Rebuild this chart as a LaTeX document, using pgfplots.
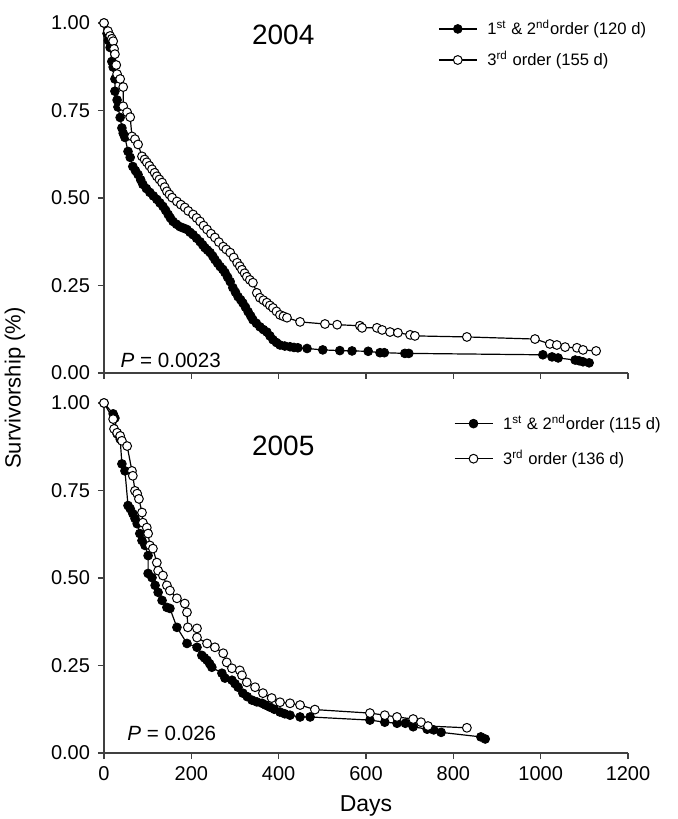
\documentclass[border=0pt]{standalone}
\usepackage{fontspec}
\setmainfont{Liberation Sans}
\usepackage{pgfplots}
\pgfplotsset{compat=1.18}

\pgfplotsset{
  surv/.style={
    scale only axis, width=262pt, height=175pt,
    xmin=0, xmax=1200, ymin=0, ymax=1,
    axis lines*=left, tick align=outside,
    xtick={0,200,...,1200}, ytick={0,0.25,0.5,0.75,1},
    yticklabel style={xshift=-0.5pt, /pgf/number format/fixed,
      /pgf/number format/fixed zerofill, /pgf/number format/precision=2},
    xticklabel style={/pgf/number format/1000 sep={}},
    /pgf/number format/assume math mode=true,
    tick style={black!75, line width=0.6pt}, major tick length=3pt,
    axis line style={black!75, line width=0.6pt},
    ticklabel style={font=\fontsize{10}{12}\selectfont},
    clip=false,
    legend style={draw=none, fill=none, font=\fontsize{8.3}{10}\selectfont,
      row sep=3pt, legend cell align=left, inner sep=0pt,
      /tikz/every odd column/.append style={column sep=3pt}},
    legend image code/.code={
      \draw[mark repeat=2, mark phase=2, #1]
        plot coordinates {(0pt,0pt) (9.5pt,0pt) (19pt,0pt)};},
  },
  fil/.style={black, line width=0.6pt, mark=*, mark size=2.2pt,
    mark options={fill=black, draw=black, line width=0.4pt}},
  opn/.style={black, line width=0.6pt, mark=*, mark size=2.2pt,
    mark options={fill=white, draw=black, line width=0.5pt}},
}

\begin{document}
\begin{tikzpicture}
\path[use as bounding box] (-52pt,-33pt) rectangle (287pt,376.5pt);
% ---------------- 2004 ----------------
\begin{axis}[surv, at={(0,190pt)}, xticklabels={},
  legend style={at={(0.637,1.02)}, anchor=north west}]
\addplot[fil] coordinates {
(0,1.0) (7,0.97) (10,0.95) (14,0.93) (18,0.89) (21,0.874) (25,0.84) (25,0.805)
(30,0.78) (32,0.76) (37,0.73) (41,0.70) (44,0.685) (48,0.673) (55,0.633) (60,0.616)
(66,0.59) (72,0.578) (78,0.567) (84,0.552) (89,0.539) (97,0.527) (105,0.516) (113,0.506)
(121,0.496) (128,0.486) (135,0.476) (141,0.465) (147,0.453) (152,0.443) (158,0.433)
(166,0.425) (174,0.418) (182,0.414) (190,0.41) (197,0.402) (204,0.395) (212,0.385)
(220,0.375) (226,0.366) (231,0.358) (237,0.351) (243,0.344) (249,0.334) (254,0.324)
(260,0.314) (266,0.304) (272,0.296) (277,0.287) (283,0.274) (289,0.261) (295,0.244)
(301,0.231) (307,0.218) (313,0.209) (318,0.20) (324,0.188) (330,0.175) (336,0.163)
(341,0.152) (349,0.142) (357,0.132) (365,0.124) (373,0.117) (380,0.106) (387,0.095)
(395,0.087) (403,0.08) (414,0.077) (426,0.075) (435,0.073) (444,0.072) (465,0.07)
(501,0.066) (540,0.064) (568,0.063) (605,0.062) (632,0.058) (642,0.058) (689,0.056)
(698,0.056) (1005,0.052) (1026,0.046) (1040,0.043) (1079,0.037) (1088,0.035)
(1097,0.032) (1111,0.029)
};
\addlegendentry{1\textsuperscript{st} \& 2\textsuperscript{nd}order (120 d)}
\addplot[opn] coordinates {
(0,1.0) (9,0.977) (14,0.963) (18,0.955) (21,0.948) (23,0.926) (25,0.911) (28,0.88)
(30,0.854) (37,0.840) (44,0.817) (44,0.762) (53,0.745) (60,0.731) (64,0.676) (71,0.668)
(78,0.653) (87,0.619) (93,0.61) (98,0.602) (104,0.592) (110,0.582) (116,0.572) (121,0.562)
(127,0.553) (133,0.544) (139,0.531) (144,0.519) (150,0.51) (156,0.501) (167,0.490)
(176,0.481) (185,0.473) (193,0.463) (204,0.453) (212,0.443) (220,0.433) (228,0.421)
(236,0.410) (245,0.398) (254,0.387) (263,0.374) (273,0.361) (280,0.353) (289,0.344)
(297,0.33) (305,0.315) (311,0.305) (316,0.295) (322,0.285) (327,0.275) (334,0.266)
(341,0.258) (350,0.229) (357,0.215) (365,0.208) (373,0.201) (380,0.193) (387,0.186)
(395,0.176) (403,0.166) (411,0.162) (419,0.158) (449,0.146) (506,0.140) (534,0.138)
(586,0.135) (591,0.129) (625,0.129) (637,0.123) (655,0.117) (673,0.115) (701,0.109)
(712,0.106) (831,0.103) (987,0.097) (1021,0.083) (1037,0.080) (1056,0.074)
(1083,0.072) (1097,0.066) (1127,0.063)
};
\addlegendentry{3\textsuperscript{rd} order (155 d)}
\node[font=\fontsize{14}{16}\selectfont] at (rel axis cs:0.342,0.965) {2004};
\node[font=\fontsize{10.3}{12}\selectfont, anchor=west, inner sep=0pt] at (rel axis cs:0.031,0.037) {\textit{P} = 0.0023};
\end{axis}

% ---------------- 2005 ----------------
\begin{axis}[surv, xlabel={Days},
  xlabel style={font=\fontsize{11.5}{13}\selectfont, yshift=-1pt},
  legend style={at={(0.667,0.978)}, anchor=north west, row sep=5pt}]
\addplot[fil] coordinates {
(0,1.0) (21,0.969) (25,0.957) (30,0.912) (37,0.897) (41,0.826) (48,0.806) (55,0.707)
(60,0.698) (66,0.684) (71,0.670) (76,0.655) (82,0.627) (87,0.607) (94,0.593)
(101,0.564) (101,0.513) (110,0.501) (117,0.479) (124,0.459) (133,0.436) (144,0.416)
(151,0.413) (167,0.359) (190,0.313) (213,0.302) (224,0.279) (230,0.272) (236,0.265)
(242,0.255) (247,0.245) (270,0.228) (277,0.214) (293,0.208) (300,0.198) (307,0.188)
(318,0.171) (328,0.161) (339,0.151) (350,0.146) (362,0.142) (370,0.137) (380,0.131)
(390,0.125) (403,0.117) (414,0.112) (426,0.108) (449,0.103) (472,0.103) (609,0.094)
(643,0.088) (671,0.085) (690,0.085) (708,0.075) (740,0.068) (755,0.066) (772,0.059)
(863,0.046) (873,0.040)
};
\addlegendentry{1\textsuperscript{st} \& 2\textsuperscript{nd}order (115 d)}
\addplot[opn] coordinates {
(0,1.0) (21,0.954) (23,0.926) (30,0.915) (37,0.906) (41,0.892) (53,0.877) (64,0.806)
(66,0.792) (71,0.749) (76,0.741) (80,0.726) (87,0.687) (89,0.658) (98,0.644)
(101,0.627) (105,0.593) (112,0.584) (121,0.544) (124,0.521) (135,0.507) (144,0.479)
(151,0.464) (167,0.442) (185,0.427) (190,0.402) (192,0.359) (213,0.356) (213,0.330)
(236,0.313) (254,0.302) (273,0.285) (281,0.259) (293,0.242) (311,0.236) (316,0.222)
(327,0.202) (346,0.188) (364,0.171) (384,0.157) (403,0.145) (426,0.142) (449,0.137)
(483,0.124) (609,0.114) (643,0.108) (671,0.103) (708,0.097) (726,0.088) (742,0.077)
(831,0.072)
};
\addlegendentry{3\textsuperscript{rd} order (136 d)}
\node[font=\fontsize{14}{16}\selectfont] at (rel axis cs:0.342,0.877) {2005};
\node[font=\fontsize{10.3}{12}\selectfont, anchor=west, inner sep=0pt] at (rel axis cs:0.044,0.055) {\textit{P} = 0.026};
\end{axis}

\node[rotate=90, font=\fontsize{11}{13}\selectfont] at (-44.5pt,182.5pt) {Survivorship (\%)};
\end{tikzpicture}
\end{document}
